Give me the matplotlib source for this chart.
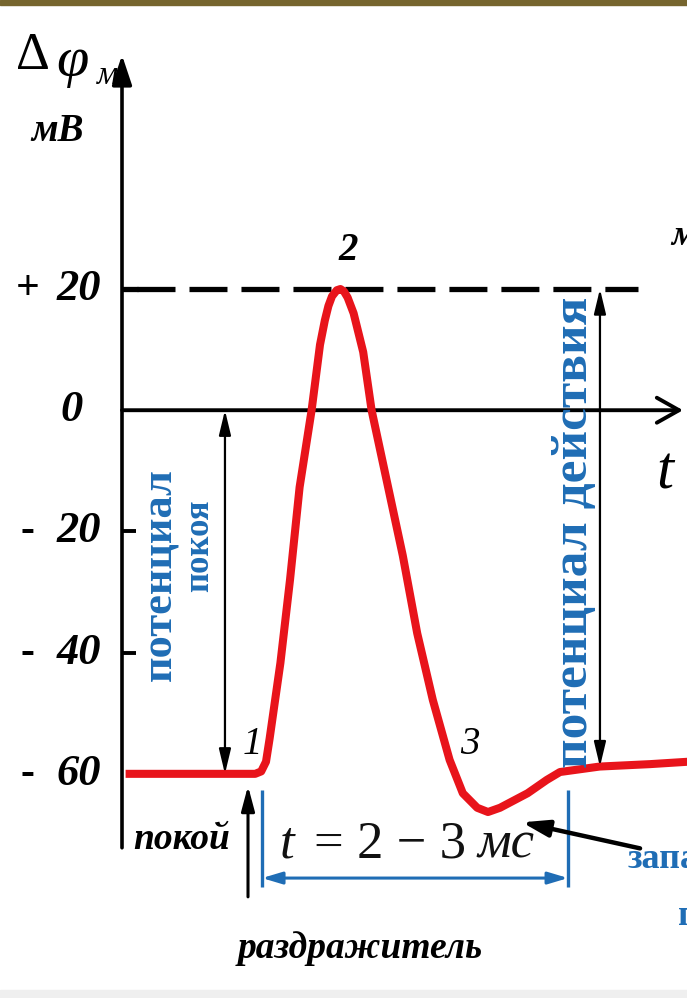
import matplotlib
matplotlib.use("Agg")
import matplotlib.pyplot as plt
from matplotlib.patches import Rectangle

plt.rcParams['font.family'] = ['Liberation Serif', 'DejaVu Serif']

# membrane potential trace: time (ms) and potential (mV)
t_ms = [0.03, 0.5, 1.0, 1.11, 1.16, 1.20, 1.23, 1.32, 1.40, 1.48, 1.58, 1.65,
        1.69, 1.72, 1.75, 1.79, 1.82, 1.85, 1.88, 1.93, 2.01, 2.08, 2.21,
        2.34, 2.46, 2.59, 2.73, 2.84, 2.96, 3.05, 3.15, 3.38, 3.54, 3.65,
        3.98, 4.40, 4.72]
phi_mv = [-60, -60, -60, -60, -59.6, -58.0, -54.2, -41.7, -28.0, -12.7, 0.0,
          10.8, 14.8, 17.2, 18.8, 19.8, 20.0, 19.6, 18.6, 16.0, 9.6, 0.0,
          -12.0, -24.0, -36.8, -47.8, -57.7, -63.2, -65.6, -66.3, -65.6,
          -63.2, -61.0, -59.7, -58.8, -58.4, -58.0]

ytick_vals = [20, 0, -20, -40, -60]
ytick_sign = ['+', '', '-', '-', '-']
ytick_num = ['20', '0', '20', '40', '60']

peak_mv = 20
rest_mv = -60
t_stim = 1.167
t_end = 3.717

RED = '#e8141b'
BLUE = '#1f6db5'

fig = plt.figure(figsize=(6.87, 9.98), dpi=100)
ax = fig.add_axes([0, 0, 1, 1])
ax.set_xlim(-1.0167, 4.7083)
ax.set_ylim(-96.99, 67.69)
ax.axis('off')

# frame bands
fig.patches.append(Rectangle((0, 1 - 5 / 998), 1, 5 / 998, transform=fig.transFigure,
                             color='#76652e', zorder=0))
fig.patches.append(Rectangle((0, 0), 1, 8 / 998, transform=fig.transFigure,
                             color='#efefef', zorder=0))

# axes with arrows
ax.annotate('', xy=(0, 58.6), xytext=(0, -72.2),
            arrowprops=dict(arrowstyle='-|>,head_length=0.9,head_width=0.3',
                            mutation_scale=20, lw=2.6, color='k',
                            shrinkA=0, shrinkB=0))
ax.annotate('', xy=(4.675, 0), xytext=(0, 0),
            arrowprops=dict(arrowstyle='->,head_length=0.8,head_width=0.45',
                            mutation_scale=20, lw=2.8, color='k',
                            shrinkA=0, shrinkB=0))
for v in ytick_vals[2:4]:
    ax.plot([0, 0.12], [v, v], color='k', lw=2.8, solid_capstyle='butt')
ax.plot([0, 0.13], [peak_mv, peak_mv], color='k', lw=3.8, solid_capstyle='butt')

for v, sg, num in zip(ytick_vals, ytick_sign, ytick_num):
    if sg:
        ax.text(-0.79, v, sg, fontsize=30, fontweight='bold', ha='center',
                va='center')
        ax.text(-0.36, v, num, fontsize=32, fontweight='bold', style='italic',
                ha='center', va='center')
    else:
        ax.text(-0.42, v, num, fontsize=32, fontweight='bold', style='italic',
                ha='center', va='center')

# axis titles
ax.text(-0.74, 58.4, 'Δ', fontsize=38, ha='center', va='center')
ax.text(-0.41, 57.4, 'φ', fontsize=42, style='italic', ha='center', va='center')
ax.text(-0.12, 55.2, 'м', fontsize=24, style='italic', ha='center', va='center')
ax.text(-0.54, 46.0, 'мВ', fontsize=28, fontweight='bold', style='italic',
        ha='center', va='center')
ax.text(4.525, -10.5, 't', fontsize=44, style='italic', ha='center', va='center')

# threshold line at peak value
ax.plot([0.125, 4.3], [peak_mv, peak_mv], color='k', lw=3.8,
        linestyle=(0, (7.2, 2.65)), dash_capstyle='butt')

# action potential
ax.plot(t_ms, phi_mv, color=RED, lw=5.8, solid_joinstyle='round',
        solid_capstyle='butt', zorder=3)

# resting / action potential amplitude arrows
dbl = dict(arrowstyle='<|-|>,head_length=0.75,head_width=0.18', mutation_scale=20,
           lw=1.6, color='k', shrinkA=0, shrinkB=0)
ax.annotate('', xy=(0.858, 0), xytext=(0.858, rest_mv), arrowprops=dbl)
ax.annotate('', xy=(3.983, peak_mv), xytext=(3.983, phi_mv[34]), arrowprops=dbl)

# stimulus arrow
ax.annotate('', xy=(1.05, -62.0), xytext=(1.05, -80.3),
            arrowprops=dict(arrowstyle='-|>,head_length=0.75,head_width=0.2',
                            mutation_scale=20, lw=2.2, color='k',
                            shrinkA=0, shrinkB=0))

# duration bracket
for tx in (t_stim, t_end):
    ax.plot([tx, tx], [-62.7, -78.6], color=BLUE, lw=2.4, solid_capstyle='butt')
ax.annotate('', xy=(t_end, -77.2), xytext=(t_stim, -77.2),
            arrowprops=dict(arrowstyle='<|-|>,head_length=0.6,head_width=0.18',
                            mutation_scale=20, lw=2.2, color=BLUE,
                            shrinkA=0, shrinkB=0))

# pointer to hyperpolarisation
ax.annotate('', xy=(3.333, -68.0), xytext=(4.317, -72.3),
            arrowprops=dict(arrowstyle='-|>,head_length=0.8,head_width=0.25',
                            mutation_scale=20, lw=3.2, color='k',
                            shrinkA=0, shrinkB=0))

# phase numbers
ax.text(1.083, -55.2, '1', fontsize=28, style='italic', ha='center', va='center')
ax.text(1.883, 26.4, '2', fontsize=28, fontweight='bold', style='italic',
        ha='center', va='center')
ax.text(2.9, -55.2, '3', fontsize=28, style='italic', ha='center', va='center')

# captions
ax.text(0.5, -70.9, 'покой', fontsize=27, fontweight='bold', style='italic',
        ha='center', va='center')
ax.text(1.983, -88.8, 'раздражитель', fontsize=27, fontweight='bold',
        style='italic', ha='center', va='center')
ax.text(1.317, -71.6, 't', fontsize=38, style='italic', ha='left', va='center',
        color='#111111')
ax.text(2.23, -71.6, '= 2 − 3', fontsize=38, ha='center', va='center',
        color='#111111')
ax.text(2.96, -71.6, 'мс', fontsize=38, style='italic', ha='left', va='center',
        color='#111111')

ax.text(0.317, -27.2, 'потенциал', fontsize=32, fontweight='bold', color=BLUE,
        rotation=90, ha='center', va='center')
ax.text(0.65, -22.3, 'покоя', fontsize=25, fontweight='bold', color=BLUE,
        rotation=90, ha='center', va='center')
ax.text(3.775, -20.2, 'потенциал действия', fontsize=37, fontweight='bold',
        color=BLUE, rotation=90, ha='center', va='center')

ax.text(4.217, -74.0, 'запаздывание', fontsize=26, fontweight='bold', color=BLUE,
        ha='left', va='center')
ax.text(4.63, -83.4, 'потенциала', fontsize=26, fontweight='bold', color=BLUE,
        ha='left', va='center')
ax.text(4.58, 28.8, 'мембрана', fontsize=26, fontweight='bold', style='italic',
        ha='left', va='center')

fig.savefig('out.png', dpi=100)
